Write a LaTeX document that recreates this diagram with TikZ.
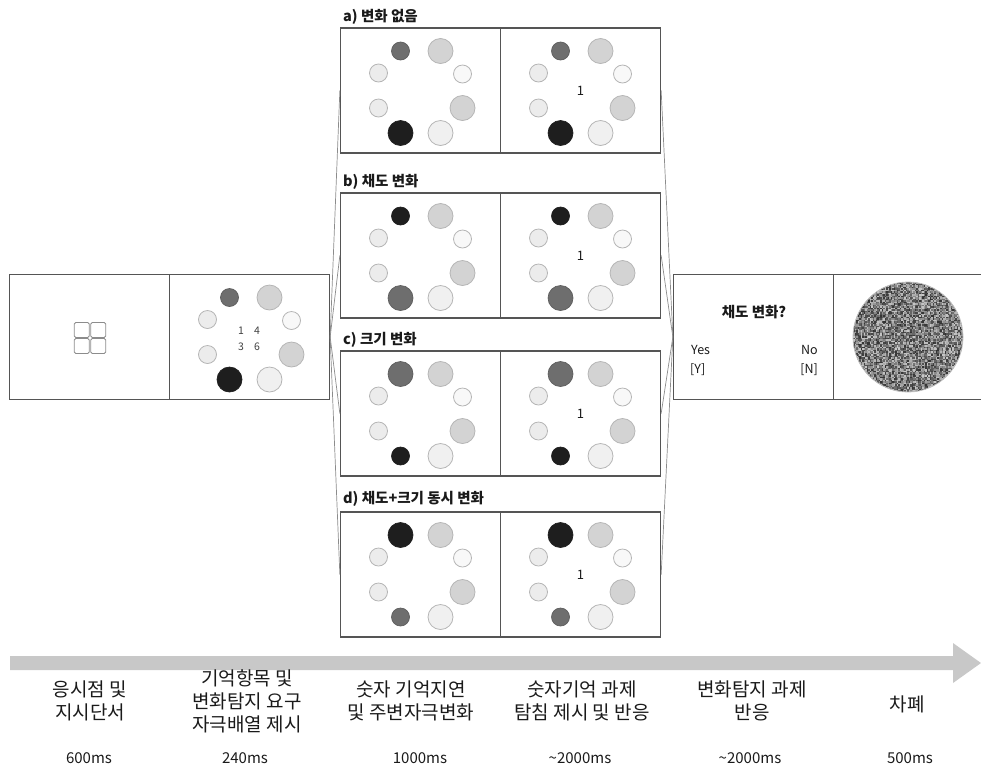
\documentclass[tikz,border=0pt]{standalone}
\usepackage{fontspec}
\setmainfont{Noto Sans CJK KR}
\definecolor{bx}{HTML}{555555}
\definecolor{fan}{HTML}{8C8C8C}
\definecolor{dk}{HTML}{6E6E6E}
\definecolor{bk}{HTML}{1E1E1E}
\definecolor{lg}{HTML}{D3D3D3}
\definecolor{vl}{HTML}{ECECEC}
\definecolor{vll}{HTML}{F0F0F0}
\definecolor{wh}{HTML}{F8F8F8}
\definecolor{ring}{HTML}{B5B5B5}
\definecolor{arr}{HTML}{C8C8C8}
\definecolor{txt}{HTML}{1A1A1A}
\newcommand\stimarr[4]{%
  \begin{scope}[shift={(#1,#2)}]
    \path[#3] (-20,-40) circle;
    \path[lgL] (20,-40) circle;
    \path[vlS] (-42,-18) circle;
    \path[whS] (42,-17) circle;
    \path[vlS] (-42,17) circle;
    \path[lgL] (42,17) circle;
    \path[#4] (-20,42) circle;
    \path[vlL] (20,42) circle;
  \end{scope}}
\begin{document}
\begin{tikzpicture}[x=1pt,y=-1pt,
  panel/.style={draw=bx,line width=1.3pt,minimum width=160pt,minimum height=125pt,inner sep=0pt},
  fanline/.style={draw=fan,line width=0.7pt},
  dkS/.style={fill=dk,draw=dk!85!black,line width=0.7pt,radius=9pt},
  dkL/.style={fill=dk,draw=dk!85!black,line width=0.7pt,radius=12.5pt},
  bkS/.style={fill=bk,draw=bk,line width=0.7pt,radius=9pt},
  bkL/.style={fill=bk,draw=bk,line width=0.7pt,radius=12.5pt},
  lgL/.style={fill=lg,draw=ring,line width=0.8pt,radius=12.5pt},
  vlS/.style={fill=vl,draw=ring,line width=0.8pt,radius=9pt},
  whS/.style={fill=wh,draw=ring,line width=0.8pt,radius=9pt},
  vlL/.style={fill=vll,draw=ring,line width=0.8pt,radius=12.5pt},
  fixsq/.style={draw=black!45,line width=0.8pt,rounded corners=1.5pt},
  plab/.style={font=\bfseries\fontsize{14.5}{17}\selectfont,text=txt,anchor=west,inner sep=0pt},
  num/.style={font=\fontsize{13}{15}\selectfont,text=txt,inner sep=0pt},
  smallnum/.style={font=\fontsize{10.5}{12}\selectfont,text=black!75,inner sep=0pt},
  blab/.style={font=\fontsize{19}{23}\selectfont,text=txt,align=center,inner sep=0pt},
  tlab/.style={font=\fontsize{15}{17}\selectfont,text=txt,inner sep=0pt},
  yn/.style={font=\fontsize{12.5}{15}\selectfont,text=txt,inner sep=0pt}
]
\useasboundingbox (0,0) rectangle (981,772);

% timeline arrow
\fill[arr] (10,656) -- (953,656) -- (953,643) -- (981,663) -- (953,683) -- (953,670) -- (10,670) -- cycle;

% left panels
\node[panel] (L1) at (89.5,337) {};
\node[panel] (L2) at (249.5,337) {};
% middle panels
\node[panel] (a1) at (420.5,90.5) {};
\node[panel] (a2) at (580.5,90.5) {};
\node[panel] (b1) at (420.5,255.5) {};
\node[panel] (b2) at (580.5,255.5) {};
\node[panel] (c1) at (420.5,413.5) {};
\node[panel] (c2) at (580.5,413.5) {};
\node[panel] (d1) at (420.5,574.5) {};
\node[panel] (d2) at (580.5,574.5) {};
% right panels
\node[panel] (R1) at (753.5,337) {};
\node[panel] (R2) at (913.5,337) {};

% fan connectors
\foreach \p in {a1,b1,c1,d1} \draw[fanline] (L2.east) -- (\p.west);
\foreach \p in {a2,b2,c2,d2} \draw[fanline] (R1.west) -- (\p.east);

% fixation
\foreach \dx in {-8.2,8.2} \foreach \dy in {-8,8}
  \draw[fixsq] (90+\dx-7.5,338+\dy-7.5) rectangle ++(15,15);

% stimulus array
\stimarr{249.5}{337.5}{dkS}{bkL}
\node[smallnum] (n1) at (241,331) {1};
\node[smallnum] (n4) at (257,331) {4};
\node[smallnum] (n3) at (241,347) {3};
\node[smallnum] (n6) at (257,347) {6};

% panel arrays
\stimarr{420.5}{91}{dkS}{bkL}
\stimarr{580.5}{91}{dkS}{bkL}
\stimarr{420.5}{256}{bkS}{dkL}
\stimarr{580.5}{256}{bkS}{dkL}
\stimarr{420.5}{414}{dkL}{bkS}
\stimarr{580.5}{414}{dkL}{bkS}
\stimarr{420.5}{575}{bkL}{dkS}
\stimarr{580.5}{575}{bkL}{dkS}
\node[num] (pa) at (580.5,91) {1};
\node[num] (pb) at (580.5,256) {1};
\node[num] (pc) at (580.5,414) {1};
\node[num] (pd) at (580.5,575) {1};

% panel labels
\node[plab] (la) at (343,17) {a) 변화 없음};
\node[plab] (lb) at (343,182) {b) 채도 변화};
\node[plab] (lc) at (343,340) {c) 크기 변화};
\node[plab] (ld) at (343,499) {d) 채도+크기 동시 변화};

% question panel
\node[font=\bfseries\fontsize{14.5}{17}\selectfont,text=txt,inner sep=0pt] (q) at (754,312) {채도 변화?};
\node[yn,anchor=west] (yes) at (691,350) {Yes};
\node[yn,anchor=west] (yk) at (690,370) {[Y]};
\node[yn,anchor=east] (no) at (818,350) {No};
\node[yn,anchor=east] (nk) at (818,370) {[N]};

% noise mask
\begin{scope}
  \clip (908,337) circle[radius=55pt];
  \fill[black!50] (908,337) circle[radius=55pt];
  \pgfmathsetseed{7}
  \foreach \i in {0,...,73}{\foreach \j in {0,...,73}{%
    \pgfmathtruncatemacro\g{random(22,80)}%
    \fill[black!\g] (853+1.5*\i,282+1.5*\j) rectangle ++(1.5,1.5);}}
\end{scope}
\draw[black!25,line width=0.8pt] (908,337) circle[radius=55pt];

% bottom labels
\node[blab] (t1) at (90,701) {응시점 및\\지시단서};
\node[blab] (t2) at (247,701.5) {기억항목 및\\변화탐지 요구\\자극배열 제시};
\node[blab] (t3) at (411,701) {숫자 기억지연\\및 주변자극변화};
\node[blab] (t4) at (582,701) {숫자기억 과제\\탐침 제시 및 반응};
\node[blab] (t5) at (752,701) {변화탐지 과제\\반응};
\node[blab] (t6) at (907,704) {차폐};
\node[tlab] (d1t) at (89,758) {600ms};
\node[tlab] (d2t) at (245,758) {240ms};
\node[tlab] (d3t) at (420,758) {1000ms};
\node[tlab] (d4t) at (580,758) {\textasciitilde2000ms};
\node[tlab] (d5t) at (750,758) {\textasciitilde2000ms};
\node[tlab] (d6t) at (910,758) {500ms};
\end{tikzpicture}
\end{document}
